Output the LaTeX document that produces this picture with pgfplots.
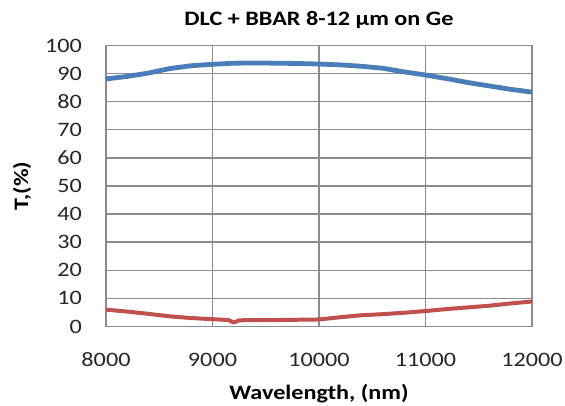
\documentclass[border=0pt]{standalone}
\usepackage{fontspec}
\setmainfont{Carlito}[FakeStretch=1.18]
\usepackage{pgfplots}
\pgfplotsset{compat=1.18}
\definecolor{xlblue}{HTML}{4A7EBB}
\definecolor{xlred}{HTML}{C0504D}
\definecolor{xlgrid}{HTML}{8C8C8C}
\begin{document}
\begin{tikzpicture}
\useasboundingbox (-106pt,-79.5pt) rectangle (459pt,326.5pt);
\begin{axis}[
  at={(0,0)}, anchor=south west,
  scale only axis, width=426pt, height=281pt,
  xmin=8000, xmax=12000, ymin=0, ymax=100,
  xtick={8000,9000,10000,11000,12000},
  ytick={0,10,...,100},
  scaled x ticks=false,
  grid=major,
  major grid style={xlgrid, line width=1.4pt},
  axis line style={xlgrid, line width=1.4pt},
  tick style={draw=none},
  /pgf/number format/assume math mode=true,
  /pgf/number format/set thousands separator={},
  tick label style={font=\fontsize{20.5}{24}\selectfont, text=black!85},
  xticklabel style={anchor=base, inner sep=0pt, yshift=-40.5pt},
  yticklabel style={anchor=east, inner sep=0pt, xshift=-24pt},
  title={DLC + BBAR 8-12 µm on Ge},
  title style={font=\bfseries\fontsize{20.5}{24}\selectfont, at={(rel axis cs:0.5,1)}, anchor=base, yshift=13.8pt, inner sep=0pt},
  xlabel={Wavelength, (nm)},
  xlabel style={font=\bfseries\fontsize{20.5}{24}\selectfont, at={(rel axis cs:0.5,0)}, anchor=base, yshift=-73.5pt, inner sep=0pt},
  ylabel={T,(\%)},
  ylabel style={font=\bfseries\fontsize{20.5}{24}\selectfont, at={(rel axis cs:0,0.5)}, anchor=center, yshift=84pt, inner sep=0pt},
]
\addplot[xlblue, line width=4.8pt, line join=round] coordinates {
(8000,88.1) (8200,89.0) (8400,90.2) (8600,91.8) (8800,92.8) (9000,93.3)
(9200,93.7) (9400,93.8) (9600,93.7) (9800,93.6) (10000,93.4) (10200,93.1)
(10400,92.6) (10600,91.9) (10800,90.6) (11000,89.5) (11200,88.2) (11400,86.8)
(11600,85.6) (11800,84.4) (12000,83.4)
};
\addplot[xlred, line width=4pt, line join=round] coordinates {
(8000,6.0) (8200,5.3) (8400,4.5) (8600,3.6) (8800,3.0) (9000,2.6)
(9150,2.3) (9200,1.4) (9250,2.2) (9400,2.3) (9600,2.3) (9800,2.4)
(10000,2.5) (10200,3.3) (10400,4.0) (10600,4.4) (10800,4.9) (11000,5.5)
(11200,6.2) (11400,6.8) (11600,7.4) (11800,8.2) (12000,8.9)
};
\end{axis}
\end{tikzpicture}
\end{document}
